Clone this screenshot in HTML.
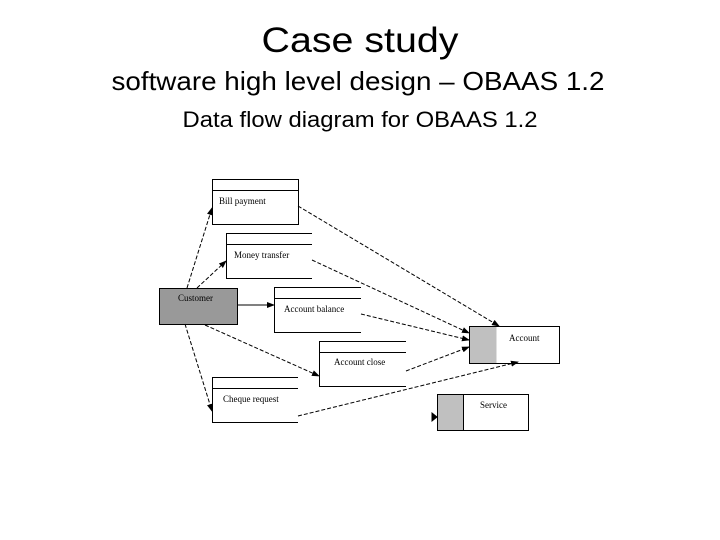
<!DOCTYPE html>
<html><head><meta charset="utf-8"><style>html,body{margin:0;padding:0;background:#fff}svg{display:block}</style></head>
<body>
<svg width="720" height="540" viewBox="0 0 720 540" xmlns="http://www.w3.org/2000/svg">
<defs><marker id="a" markerWidth="8" markerHeight="6" refX="7" refY="3" orient="auto" markerUnits="userSpaceOnUse"><path d="M0,0 L8,3 L0,6z" fill="#000"/></marker></defs>
<g font-family="Liberation Sans, Arial, sans-serif" fill="#000">
<text x="360" y="52" font-size="35" text-anchor="middle" textLength="197" lengthAdjust="spacingAndGlyphs">Case study</text>
<text x="358" y="90" font-size="26" text-anchor="middle" textLength="493" lengthAdjust="spacingAndGlyphs">software high level design – OBAAS 1.2</text>
<text x="360" y="127" font-size="22" text-anchor="middle" textLength="355" lengthAdjust="spacingAndGlyphs">Data flow diagram for OBAAS 1.2</text>
</g>
<g stroke="#000" stroke-width="1" fill="none">
<rect x="212.5" y="179.5" width="86" height="45" fill="#fff"/><line x1="212" y1="190.5" x2="299" y2="190.5"/>
<path d="M312,233.5 H226.5 V278.5 H312 M226,244.5 H312"/>
<path d="M361,287.5 H274.5 V332.5 H361 M274,298.5 H361"/>
<path d="M406,341.5 H319.5 V386.5 H406 M319,352.5 H406"/>
<path d="M298,377.5 H212.5 V422.5 H298 M212,388.5 H298"/>
<rect x="159.5" y="288.5" width="78" height="36" fill="#999"/>
<rect x="469.5" y="326.5" width="90" height="37" fill="#fff"/><rect x="469.5" y="326.5" width="27" height="37" fill="#c0c0c0" stroke="none"/><rect x="469.5" y="326.5" width="90" height="37"/>
<rect x="437.5" y="394.5" width="91" height="36" fill="#fff"/><rect x="437.5" y="394.5" width="26" height="36" fill="#c0c0c0" stroke="none"/><rect x="437.5" y="394.5" width="91" height="36"/><line x1="463.5" y1="394" x2="463.5" y2="431"/>
<g stroke-dasharray="4,2" marker-end="url(#a)">
<line x1="187" y1="288" x2="212" y2="208"/>
<line x1="197" y1="288" x2="226" y2="261"/>
<line x1="205" y1="325" x2="319" y2="376"/>
<line x1="185" y1="324" x2="212" y2="411"/>
<line x1="298" y1="206" x2="499" y2="326"/>
<line x1="312" y1="260" x2="469" y2="333"/>
<line x1="361" y1="314" x2="469" y2="340"/>
<line x1="406" y1="371" x2="469" y2="347"/>
<line x1="298" y1="416" x2="518" y2="362"/>
</g>
<line x1="237" y1="305" x2="274" y2="305" marker-end="url(#a)"/>
<path d="M432,413 L437,417 L432,421z" fill="#000"/>
</g>
<g font-family="Liberation Serif, serif" font-size="9" fill="#000">
<text x="219" y="204">Bill payment</text>
<text x="234" y="258">Money transfer</text>
<text x="178" y="301">Customer</text>
<text x="284" y="312">Account balance</text>
<text x="334" y="365">Account close</text>
<text x="223" y="402">Cheque request</text>
<text x="509" y="341">Account</text>
<text x="480" y="408">Service</text>
</g>
</svg>
</body></html>
